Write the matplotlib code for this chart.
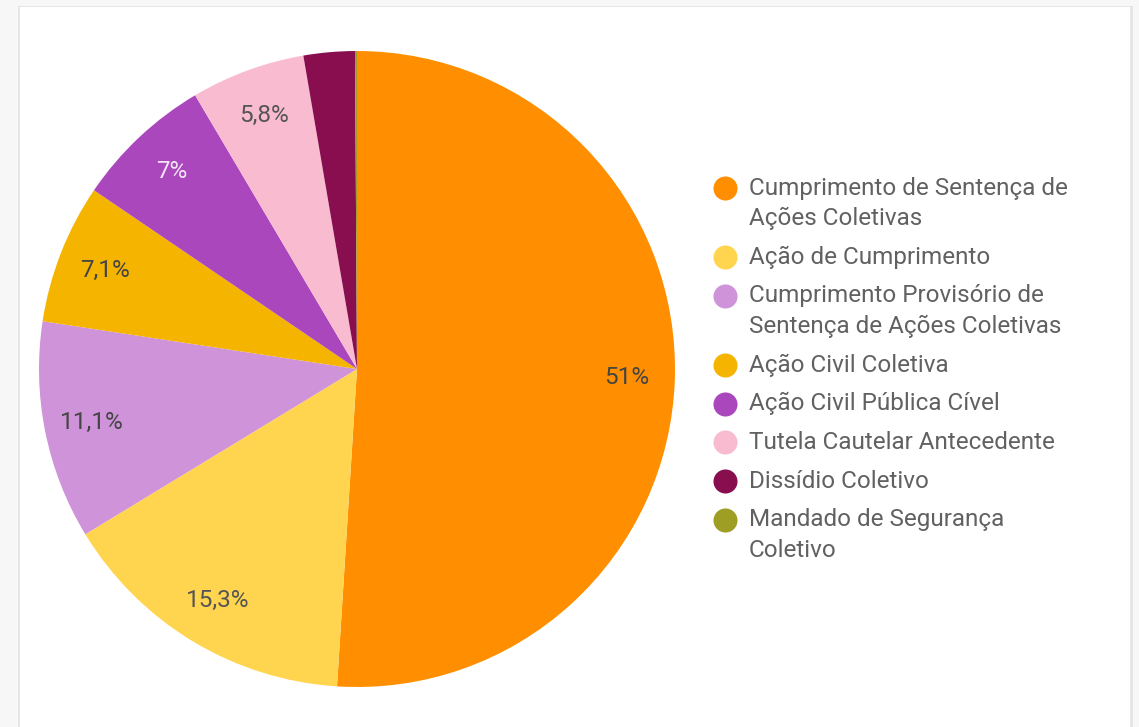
import matplotlib.pyplot as plt
from matplotlib.patches import Rectangle

plt.rcParams['font.family'] = ['Roboto', 'DejaVu Sans']

names = [
    "Cumprimento de Sentença de\nAções Coletivas",
    "Ação de Cumprimento",
    "Cumprimento Provisório de\nSentença de Ações Coletivas",
    "Ação Civil Coletiva",
    "Ação Civil Pública Cível",
    "Tutela Cautelar Antecedente",
    "Dissídio Coletivo",
    "Mandado de Segurança\nColetivo",
]
values = [51.0, 15.3, 11.1, 7.1, 7.0, 5.8, 2.6, 0.1]
colors = ["#FF8F00", "#FFD54F", "#CE93D8", "#F4B400",
          "#AB47BC", "#F8BBD0", "#880E4F", "#9E9D24"]
label_colors = ["#444444", "#555555", "#444444", "#444444",
                "#F3E5F5", "#555555", "#FFFFFF", "#FFFFFF"]

W, H = 1139, 727
fig = plt.figure(figsize=(W / 100, H / 100), dpi=100)
fig.patch.set_facecolor("#f7f7f7")

# background card drawn on a full-figure overlay in pixel units
bg = fig.add_axes([0, 0, 1, 1], zorder=0)
bg.set_xlim(0, W)
bg.set_ylim(H, 0)
bg.axis("off")
bg.add_patch(Rectangle((18, 6), 1115, 740, facecolor="#e6e6e6", edgecolor="none"))
bg.add_patch(Rectangle((20, 7), 1110, 740, facecolor="white", edgecolor="none"))

# pie
cx, cy, r = 357, 369, 318
ax = fig.add_axes([(cx - r) / W, (H - cy - r) / H, 2 * r / W, 2 * r / H], zorder=1)


def fmt(p):
    if p < 5:
        return ""
    return f"{round(p, 1):g}".replace(".", ",") + "%"


wedges, texts, autotexts = ax.pie(
    values, colors=colors, startangle=90, counterclock=False,
    autopct=fmt, pctdistance=0.85, radius=1.0,
    wedgeprops=dict(linewidth=0),
    textprops=dict(fontsize=17.5),
)
for t, c in zip(autotexts, label_colors):
    t.set_color(c)
ax.set_xlim(-1, 1)
ax.set_ylim(-1, 1)
ax.set_aspect("equal")

# legend, drawn by hand on an overlay in pixel units
lg = fig.add_axes([0, 0, 1, 1], zorder=2)
lg.set_xlim(0, W)
lg.set_ylim(H, 0)
lg.axis("off")
y = 188
for name, col in zip(names, colors):
    lg.scatter([725], [y], s=300, color=col, linewidths=0)
    lines = name.split("\n")
    for k, line in enumerate(lines):
        lg.text(749, y + 30.5 * k, line, fontsize=17.5, color="#616161",
                va="center", ha="left")
    y += 30.5 * (len(lines) - 1) + 38.7

fig.savefig("out.png", dpi=100, facecolor=fig.get_facecolor())
